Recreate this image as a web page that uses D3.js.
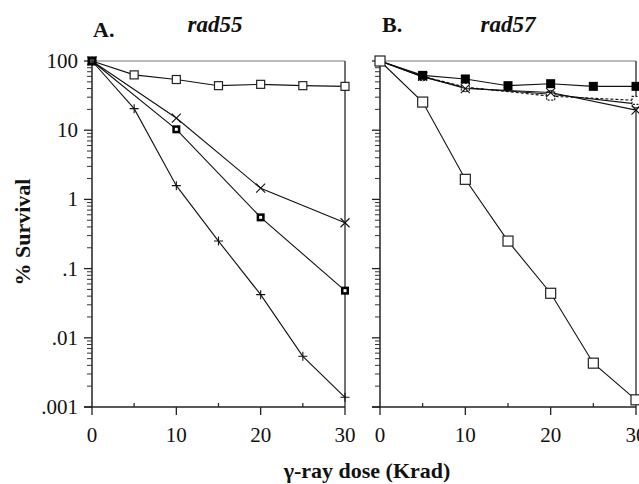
<!DOCTYPE html>
<html>
<head>
<meta charset="utf-8">
<script src="https://cdn.jsdelivr.net/npm/d3@7"></script>
<style>
  body { margin: 0; background: #fff; }
  text { font-family: "Liberation Serif", "DejaVu Serif", serif; fill: #111; }
</style>
</head>
<body>
<svg></svg>
<script>
// doses (Krad)
const dosesA = [0, 5, 10, 15, 20, 25, 30];
const dosesA3 = [0, 10, 20, 30];
const dosesB3 = [0, 5, 10, 20, 30];

// panel A: rad55
const aOpenSquare = [100, 63, 54, 44, 46, 44, 43];
const aCross = [100, 15, 1.45, 0.46];
const aBoldSquare = [100, 10.3, 0.55, 0.048];
const aPlus = [100, 20.5, 1.58, 0.25, 0.042, 0.0054, 0.00138];

// panel B: rad57
const bOpenSquare = [100, 25.5, 1.95, 0.25, 0.044, 0.0043, 0.00127];
const bFilledSquare = [100, 62, 55, 44, 47, 43, 43];
const bCross = [100, 60, 40, 35, 19.5];
const bDotSquare = [100, 60, 42, 31, 27];
const bCircle = [100, 59, 41, 33, 24];

const yTicks = [100, 10, 1, 0.1, 0.01, 0.001];
const yTickLabels = ["100", "10", "1", ".1", ".01", ".001"];
const xTicks = [0, 10, 20, 30];

let width = 639,
    height = 484;

const svg = d3.select("svg")
    .attr("width", width)
    .attr("height", height);

const y = d3.scaleLog().domain([0.001, 100]).range([407, 61]);
const xA = d3.scaleLinear().domain([0, 30]).range([92, 345]);
const xB = d3.scaleLinear().domain([0, 30]).range([380, 636]);

// minor ticks on log axis
const minorTicks = [];
for (let e = -3; e < 2; e++) {
    for (let m = 2; m <= 9; m++) minorTicks.push(m * Math.pow(10, e));
}

function drawAxes(x, showLabels) {
    const g = svg.append("g");
    // frame top + right
    g.append("line")
        .attr("x1", x(0)).attr("x2", x(30))
        .attr("y1", y(100)).attr("y2", y(100))
        .attr("stroke", "#777").attr("stroke-width", 1.2);
    g.append("line")
        .attr("x1", x(30)).attr("x2", x(30))
        .attr("y1", y(100)).attr("y2", y(0.001))
        .attr("stroke", "#444").attr("stroke-width", 1.5);

    // y axis
    g.append("line")
        .attr("x1", x(0)).attr("x2", x(0))
        .attr("y1", y(100)).attr("y2", y(0.001))
        .attr("stroke", "#222").attr("stroke-width", 1.5);
    g.selectAll(".ymaj").data(yTicks).enter().append("line")
        .attr("x1", x(0) - 8).attr("x2", x(0))
        .attr("y1", d => y(d)).attr("y2", d => y(d))
        .attr("stroke", "#222").attr("stroke-width", 1.3);
    g.selectAll(".ymin").data(minorTicks).enter().append("line")
        .attr("x1", x(0) - 5).attr("x2", x(0))
        .attr("y1", d => y(d)).attr("y2", d => y(d))
        .attr("stroke", "#333").attr("stroke-width", 1);

    // x axis
    g.append("line")
        .attr("x1", x(0) - 8).attr("x2", x(30))
        .attr("y1", y(0.001)).attr("y2", y(0.001))
        .attr("stroke", "#222").attr("stroke-width", 1.5);
    g.selectAll(".xmaj").data(xTicks).enter().append("line")
        .attr("x1", d => x(d)).attr("x2", d => x(d))
        .attr("y1", y(0.001)).attr("y2", y(0.001) + 8)
        .attr("stroke", "#222").attr("stroke-width", 1.3);
    g.selectAll(".xmin").data([5, 15, 25]).enter().append("line")
        .attr("x1", d => x(d)).attr("x2", d => x(d))
        .attr("y1", y(0.001) - 4).attr("y2", y(0.001))
        .attr("stroke", "#222").attr("stroke-width", 1.2);

    g.selectAll(".xlab").data(xTicks).enter().append("text")
        .attr("x", d => x(d))
        .attr("y", y(0.001) + 35)
        .attr("text-anchor", "middle")
        .attr("font-size", 21)
        .text(d => d);

    if (showLabels) {
        g.selectAll(".ylab").data(yTicks).enter().append("text")
            .attr("x", x(0) - 14)
            .attr("y", d => y(d) + 7)
            .attr("text-anchor", "end")
            .attr("font-size", 21)
            .text((d, i) => yTickLabels[i]);
    }
}

drawAxes(xA, true);
drawAxes(xB, false);

const line = (x) => d3.line().x(d => x(d[0])).y(d => y(d[1]));

function series(x, doses, values, marker, size, dashed) {
    const pts = doses.map((d, i) => [d, values[i]]);
    const g = svg.append("g");
    g.append("path")
        .datum(pts)
        .attr("d", line(x))
        .attr("fill", "none")
        .attr("stroke", "#111")
        .attr("stroke-width", 1.1)
        .attr("stroke-dasharray", dashed ? "3,2" : null);

    const m = g.selectAll("g").data(pts).enter().append("g")
        .attr("transform", d => `translate(${x(d[0])} ${y(d[1])})`);
    const h = size / 2;
    if (marker === "open") {
        m.append("rect").attr("x", -h).attr("y", -h).attr("width", size).attr("height", size)
            .attr("fill", "#fff").attr("stroke", "#222").attr("stroke-width", 1.2)
            .attr("stroke-dasharray", dashed ? "2,1.5" : null);
    } else if (marker === "filled") {
        m.append("rect").attr("x", -h).attr("y", -h).attr("width", size).attr("height", size)
            .attr("fill", "#000");
    } else if (marker === "bold") {
        m.append("rect").attr("x", -h + 1.25).attr("y", -h + 1.25).attr("width", size - 2.5).attr("height", size - 2.5)
            .attr("fill", "#fff").attr("stroke", "#000").attr("stroke-width", 2.5);
    } else if (marker === "cross") {
        m.append("path").attr("d", `M${-h},${-h}L${h},${h}M${-h},${h}L${h},${-h}`)
            .attr("stroke", "#111").attr("stroke-width", 1.1);
    } else if (marker === "plus") {
        m.append("path").attr("d", `M${-h},0L${h},0M0,${-h}L0,${h}`)
            .attr("stroke", "#111").attr("stroke-width", 1.1);
    } else if (marker === "circle") {
        m.append("circle").attr("r", h).attr("fill", "#fff")
            .attr("stroke", "#222").attr("stroke-width", 1);
    }
}

// panel A
series(xA, dosesA, aOpenSquare, "open", 8);
series(xA, dosesA3, aCross, "cross", 9);
series(xA, dosesA3, aBoldSquare, "bold", 8);
series(xA, dosesA, aPlus, "plus", 9);

// panel B
series(xB, dosesB3, bCircle, "circle", 8);
series(xB, dosesB3, bDotSquare, "open", 8, true);
series(xB, dosesB3, bCross, "cross", 9);
series(xB, dosesA, bFilledSquare, "filled", 9);
series(xB, dosesA, bOpenSquare, "open", 10);

// titles
svg.append("text").attr("x", 93).attr("y", 37)
    .attr("font-size", 22).attr("font-weight", "bold").text("A.");
svg.append("text").attr("x", 215).attr("y", 32)
    .attr("text-anchor", "middle").attr("font-size", 23)
    .attr("font-weight", "bold").attr("font-style", "italic").text("rad55");
svg.append("text").attr("x", 382).attr("y", 32)
    .attr("font-size", 22).attr("font-weight", "bold").text("B.");
svg.append("text").attr("x", 508).attr("y", 32)
    .attr("text-anchor", "middle").attr("font-size", 23)
    .attr("font-weight", "bold").attr("font-style", "italic").text("rad57");

// axis titles
svg.append("text")
    .attr("transform", "translate(30 232) rotate(-90)")
    .attr("text-anchor", "middle")
    .attr("font-size", 22).attr("font-weight", "bold")
    .text("% Survival");
svg.append("text")
    .attr("x", 367).attr("y", 478)
    .attr("text-anchor", "middle")
    .attr("font-size", 22).attr("font-weight", "bold")
    .text("γ-ray dose (Krad)");
</script>
</body>
</html>
